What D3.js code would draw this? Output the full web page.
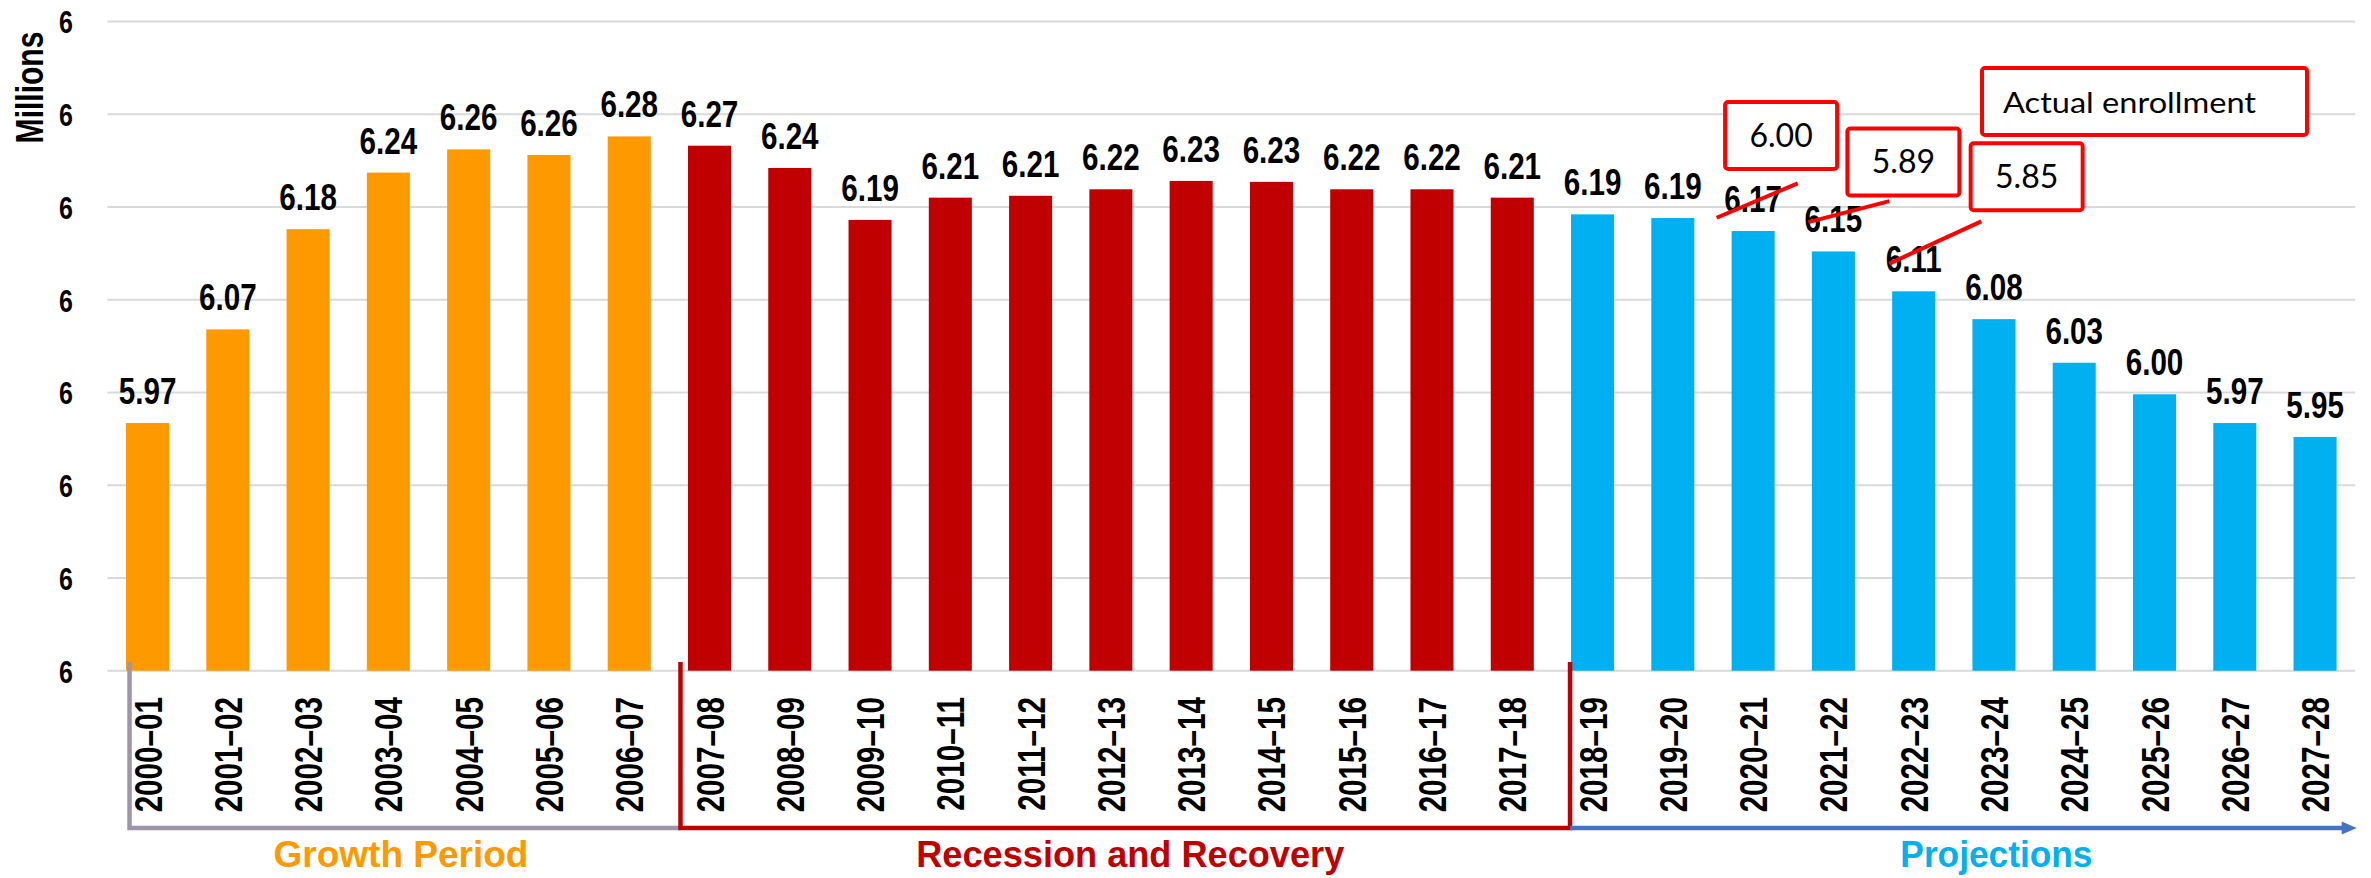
<!DOCTYPE html>
<html>
<head>
<meta charset="utf-8">
<script src="https://cdn.jsdelivr.net/npm/d3@7"></script>
<style>
  html, body { margin: 0; padding: 0; background: #ffffff; }
  svg { display: block; }
</style>
</head>
<body>
<svg id="chart" width="2371" height="878"></svg>
<script>
// ---------------- DATA ----------------
const categories = ["2000–01","2001–02","2002–03","2003–04","2004–05","2005–06","2006–07",
  "2007–08","2008–09","2009–10","2010–11","2011–12","2012–13","2013–14","2014–15","2015–16","2016–17","2017–18",
  "2018–19","2019–20","2020–21","2021–22","2022–23","2023–24","2024–25","2025–26","2026–27","2027–28"];
const enrollment = [5.967, 6.068, 6.176, 6.237, 6.262, 6.256, 6.276,
  6.266, 6.242, 6.186, 6.210, 6.212, 6.219, 6.228, 6.227, 6.219, 6.219, 6.210,
  6.192, 6.188, 6.174, 6.152, 6.109, 6.079, 6.032, 5.998, 5.967, 5.952];
const periodNames = ["Growth Period", "Recession and Recovery", "Projections"];
const periodFirst = ["2000–01", "2007–08", "2018–19"];
const periodLast  = ["2006–07", "2017–18", "2027–28"];
const periodColors = ["#FF9900", "#C00000", "#00B0F0"];
const yTicks = [5.7, 5.8, 5.9, 6.0, 6.1, 6.2, 6.3, 6.4];
const yLabel = "Millions";
const actualCategories = ["2020–21", "2021–22", "2022–23"];
const actualValues = [6.00, 5.89, 5.85];
const actualTitle = "Actual enrollment";

// ---------------- LAYOUT ----------------
const svg = d3.select("#chart");
svg.append("rect").attr("width", 2371).attr("height", 878).attr("fill", "#fff");
const BOLD = "'Liberation Sans', Arial, sans-serif";
const GEO = "Lato, 'Open Sans', sans-serif";

const x = d3.scaleBand().domain(categories).range([107.4, 2355.2])
  .paddingInner(0.464).paddingOuter(0.232);
const y = d3.scaleLinear().domain([5.7, 6.4]).range([670.7, 21.4]);
const cx = c => x(c) + x.bandwidth() / 2;
const periodIndex = categories.map(c => {
  const i = categories.indexOf(c);
  for (let p = periodFirst.length - 1; p >= 0; p--) if (i >= categories.indexOf(periodFirst[p])) return p;
  return 0;
});

// gridlines
svg.append("g").selectAll("line").data(yTicks).join("line")
  .attr("x1", 107.4).attr("x2", 2355.2)
  .attr("y1", d => y(d)).attr("y2", d => y(d))
  .attr("stroke", "#D9D9D9").attr("stroke-width", 2);

// y axis
const yAxis = svg.append("g").attr("transform", "translate(76,0)")
  .call(d3.axisLeft(y).tickValues(yTicks).tickFormat(d3.format(".0f")).tickSize(0).tickPadding(3));
yAxis.select(".domain").remove();
yAxis.selectAll("text")
  .attr("font-family", BOLD).attr("font-weight", "bold").attr("font-size", 32)
  .attr("fill", "#000").attr("x", -3 / 0.78).attr("dy", "0.36em")
  .attr("transform", "scale(0.78,1)");

// y label
svg.append("g").attr("transform", "translate(28.5,87.5)")
  .append("text").text(yLabel)
  .attr("transform", "rotate(-90) scale(0.77,1)")
  .attr("text-anchor", "middle").attr("dy", "0.36em")
  .attr("font-family", BOLD).attr("font-weight", "bold").attr("font-size", 39).attr("fill", "#000");

// bars
svg.append("g").selectAll("rect").data(categories).join("rect")
  .attr("x", d => x(d)).attr("width", x.bandwidth())
  .attr("y", (d, i) => y(enrollment[i]))
  .attr("height", (d, i) => y(5.7) - y(enrollment[i]))
  .attr("fill", (d, i) => periodColors[periodIndex[i]]);

// value labels
const fmt = d3.format(".2f");
svg.append("g").selectAll("g").data(categories).join("g")
  .attr("transform", (d, i) => `translate(${cx(d)},${y(enrollment[i]) - 19})`)
  .append("text")
  .text((d, i) => fmt(enrollment[i]))
  .attr("transform", "scale(0.8,1)")
  .attr("text-anchor", "middle")
  .attr("font-family", BOLD).attr("font-weight", "bold").attr("font-size", 37).attr("fill", "#000");

// x axis (rotated category labels)
const xAxis = svg.append("g").attr("transform", "translate(0,697)")
  .call(d3.axisBottom(x).tickSize(0).tickPadding(0));
xAxis.select(".domain").remove();
xAxis.selectAll("text")
  .attr("x", 0).attr("y", 0).attr("dy", "0.36em")
  .attr("transform", "rotate(-90) scale(0.76,1)")
  .attr("text-anchor", "end")
  .attr("font-family", BOLD).attr("font-weight", "bold").attr("font-size", 39).attr("fill", "#000");

// period brackets
const bTop = 662, bBot = 828;
const growthL = x(periodFirst[0]) + 3.5;
const recessL = x(periodFirst[1]) - 7.5;
const projL = x(periodFirst[2]) - 1;
const arrowEnd = 2356.7;
svg.append("path")
  .attr("d", `M${growthL},${bTop} V${bBot} H${recessL}`)
  .attr("fill", "none").attr("stroke", "#A094A8").attr("stroke-width", 4.5);
svg.append("path")
  .attr("d", `M${recessL},${bTop} V${bBot} H${projL} V${bTop}`)
  .attr("fill", "none").attr("stroke", "#C00000").attr("stroke-width", 4.5);
svg.append("line")
  .attr("x1", projL).attr("x2", arrowEnd - 12).attr("y1", bBot).attr("y2", bBot)
  .attr("stroke", "#4472C4").attr("stroke-width", 4.5);
svg.append("path")
  .attr("d", `M${arrowEnd - 15},${bBot - 6.5} L${arrowEnd},${bBot} L${arrowEnd - 15},${bBot + 6.5} Z`)
  .attr("fill", "#4472C4");

// period labels
const periodCenters = [(growthL + recessL) / 2 - 4, (recessL + projL) / 2 + 5, (projL + arrowEnd) / 2 + 33];
const periodWidths = [255, 428, 192];
svg.append("g").selectAll("text").data(periodNames).join("text")
  .text(d => d)
  .attr("x", (d, i) => periodCenters[i] - periodWidths[i] / 2).attr("y", 867)
  .attr("textLength", (d, i) => periodWidths[i]).attr("lengthAdjust", "spacingAndGlyphs")
  .attr("font-family", BOLD).attr("font-weight", "bold").attr("font-size", 37)
  .attr("fill", (d, i) => periodColors[i]);

// strike-through lines on revised projections
const strikeOffsets = [[-36.5, 5.7, 44.6, -28.7], [-25, -10.3, 56, -31.3], [-24.4, -8.7, 67.6, -51]];
const boxOffsets = [[28, -76.6], [70, -70.5], [113, -95.5]];
const boxW = 112, boxH = 67;
actualCategories.forEach((c, k) => {
  const i = categories.indexOf(c);
  const lx = cx(c), ly = y(enrollment[i]) - 19;
  const s = strikeOffsets[k];
  svg.append("line")
    .attr("x1", lx + s[0]).attr("y1", ly + s[1]).attr("x2", lx + s[2]).attr("y2", ly + s[3])
    .attr("stroke", "#FF0000").attr("stroke-width", 4);
  const b = boxOffsets[k];
  const bx = lx + b[0], by = ly + b[1];
  svg.append("rect")
    .attr("x", bx - boxW / 2).attr("y", by - boxH / 2).attr("width", boxW).attr("height", boxH)
    .attr("rx", 3).attr("fill", "#fff").attr("stroke", "#FF0000").attr("stroke-width", 4);
  svg.append("text").text(fmt(actualValues[k]))
    .attr("x", bx).attr("y", by).attr("dy", "0.36em").attr("text-anchor", "middle")
    .attr("font-family", GEO).attr("font-size", 32).attr("fill", "#000");
});

// "Actual enrollment" box
svg.append("rect")
  .attr("x", 1982).attr("y", 68).attr("width", 325).attr("height", 67)
  .attr("rx", 3).attr("fill", "#fff").attr("stroke", "#FF0000").attr("stroke-width", 4);
svg.append("text").text(actualTitle)
  .attr("x", 2003).attr("y", 113)
  .attr("textLength", 253).attr("lengthAdjust", "spacingAndGlyphs")
  .attr("font-family", GEO).attr("font-size", 28).attr("fill", "#000");
</script>
</body>
</html>
